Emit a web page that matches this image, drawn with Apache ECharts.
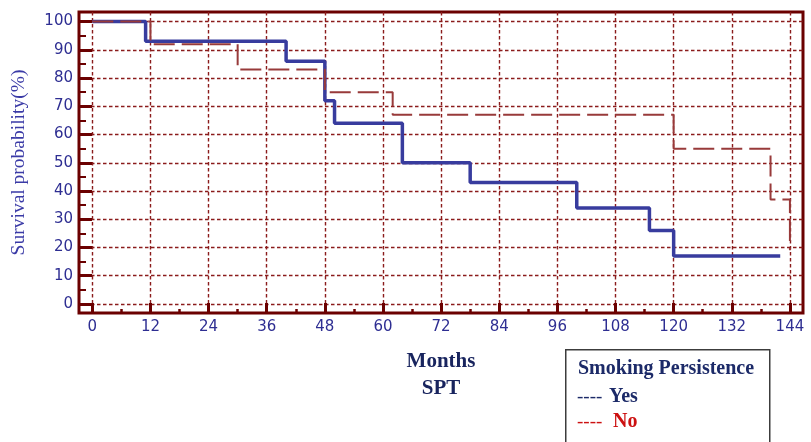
<!DOCTYPE html>
<html>
<head>
<meta charset="utf-8">
<script src="https://cdn.jsdelivr.net/npm/echarts@6/dist/echarts.min.js"></script>
<style>
  html, body { margin: 0; padding: 0; background: #ffffff; }
  #chart { width: 811px; height: 442px; }
</style>
</head>
<body>
<div id="chart"></div>
<script>
// Axis tick values
const monthTicks = [0, 12, 24, 36, 48, 60, 72, 84, 96, 108, 120, 132, 144];
const monthMinorTicks = [6, 18, 30, 42, 54, 66, 78, 90, 102, 114, 126, 138];
const survivalTicks = [0, 10, 20, 30, 40, 50, 60, 70, 80, 90, 100];
const survivalMinorTicks = [5, 15, 25, 35, 45, 55, 65, 75, 85, 95];

// Kaplan–Meier steps: [month, survival %]
const smokingYes = [[0, 100], [11, 93], [40, 86], [48, 72], [50, 64], [64, 50], [78, 43], [100, 34], [115, 26], [120, 17], [142, 17]];
const smokingNo = [[0, 100], [12, 92], [30, 83], [48, 75], [62, 67], [120, 55], [140, 37], [144, 19]];

// Legend entries
const legendTitle = 'Smoking Persistence';
const legendYes = 'Yes';
const legendNo = 'No';

const frameColor = '#6b0000';
const dotted = { color: '#8b1c1c', width: 1.4, type: [3.5, 2.5] };
const labelStyle = { color: '#2e2e92', fontFamily: 'DejaVu Sans', fontSize: 15 };

// the frame runs a little past the data range on every side
const X_MIN = -2.75, X_MAX = 146.7;
const Y_MIN = -3.2, Y_MAX = 103.4;

const chart = echarts.init(document.getElementById('chart'), null, { renderer: 'canvas' });

const hiddenLine = { show: false, onZero: false };

chart.setOption({
  animation: false,
  backgroundColor: '#ffffff',
  grid: {
    left: 79, top: 12, width: 724, height: 301,
    show: true, borderColor: frameColor, borderWidth: 3, backgroundColor: 'transparent',
    containLabel: false, outerBoundsMode: 'none'
  },
  xAxis: [
    {
      type: 'value', min: X_MIN, max: X_MAX, position: 'bottom',
      axisLine: hiddenLine,
      axisTick: { show: true, inside: true, length: 10, customValues: monthTicks,
        lineStyle: { color: frameColor, width: 3 } },
      axisLabel: Object.assign({ customValues: monthTicks, margin: 7 }, labelStyle),
      splitLine: { show: true, lineStyle: dotted },
      name: 'Months\nSPT', nameLocation: 'middle', nameGap: 35,
      nameTextStyle: { fontFamily: 'Liberation Serif', fontWeight: 'bold', fontSize: 21,
        lineHeight: 27, color: '#18245e', align: 'center' }
    },
    {
      type: 'value', min: X_MIN, max: X_MAX, position: 'bottom',
      axisLine: hiddenLine,
      axisTick: { show: true, inside: true, length: 4, customValues: monthMinorTicks,
        lineStyle: { color: frameColor, width: 2.5 } },
      axisLabel: { show: false },
      splitLine: { show: false }
    }
  ],
  yAxis: [
    {
      type: 'value', min: Y_MIN, max: Y_MAX, position: 'left',
      axisLine: hiddenLine,
      axisTick: { show: true, inside: true, length: 13, customValues: survivalTicks,
        lineStyle: { color: frameColor, width: 3 } },
      axisLabel: Object.assign({ customValues: survivalTicks, margin: 6 }, labelStyle),
      splitLine: { show: true, lineStyle: dotted },
      name: 'Survival probability(%)', nameLocation: 'middle', nameGap: 50, nameRotate: 90,
      nameTextStyle: { fontFamily: 'Liberation Serif', fontSize: 19.5, color: '#3a3aa6' }
    },
    {
      type: 'value', min: Y_MIN, max: Y_MAX, position: 'left',
      axisLine: hiddenLine,
      axisTick: { show: true, inside: true, length: 7, customValues: survivalMinorTicks,
        lineStyle: { color: frameColor, width: 2 } },
      axisLabel: { show: false },
      splitLine: { show: false }
    }
  ],
  series: [
    {
      name: legendYes, type: 'line', step: 'end', data: smokingYes,
      xAxisIndex: 0, yAxisIndex: 0, symbol: 'none', z: 3,
      lineStyle: { color: '#383c9e', width: 3.5 }
    },
    {
      name: legendNo, type: 'line', step: 'end', data: smokingNo,
      xAxisIndex: 0, yAxisIndex: 0, symbol: 'none', z: 4,
      lineStyle: { color: '#983a3a', width: 2, type: [21, 7] }
    }
  ],
  graphic: [
    {
      type: 'rect', left: 565, top: 349, z: 10,
      shape: { width: 204, height: 110 },
      style: { fill: '#ffffff', stroke: '#3c3c3c', lineWidth: 1.5 }
    },
    {
      type: 'text', x: 578, y: 369, z: 11,
      style: { text: legendTitle, fontFamily: 'Liberation Serif', fontWeight: 'bold', fontSize: 20,
        fill: '#1c2a68', verticalAlign: 'middle' }
    },
    {
      type: 'text', x: 577, y: 397, z: 11,
      style: { text: '----', fontFamily: 'Liberation Serif', fontSize: 19,
        fill: '#1c2a68', verticalAlign: 'middle' }
    },
    {
      type: 'text', x: 609, y: 397, z: 11,
      style: { text: legendYes, fontFamily: 'Liberation Serif', fontWeight: 'bold', fontSize: 20,
        fill: '#1c2a68', verticalAlign: 'middle' }
    },
    {
      type: 'text', x: 577, y: 422, z: 11,
      style: { text: '----', fontFamily: 'Liberation Serif', fontSize: 19,
        fill: '#cc1111', verticalAlign: 'middle' }
    },
    {
      type: 'text', x: 613, y: 422, z: 11,
      style: { text: legendNo, fontFamily: 'Liberation Serif', fontWeight: 'bold', fontSize: 20,
        fill: '#cc1111', verticalAlign: 'middle' }
    }
  ]
});
</script>
</body>
</html>
